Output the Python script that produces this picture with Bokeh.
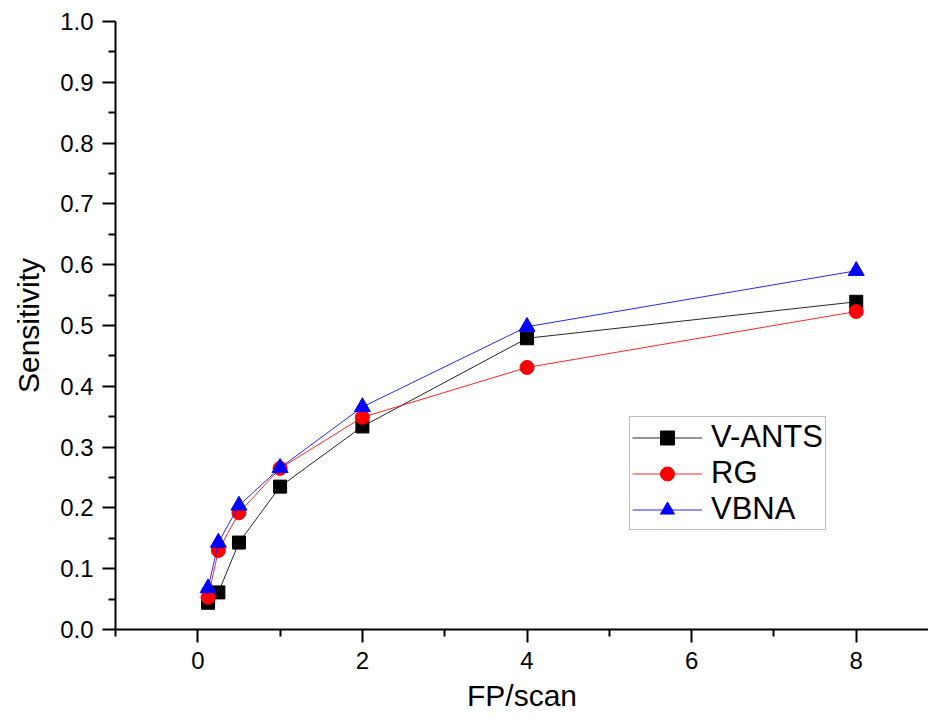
from bokeh.plotting import figure
from bokeh.models import FixedTicker, NumeralTickFormatter, Range1d, Legend, LegendItem
from bokeh.embed import file_html
from bokeh.resources import INLINE

fp_scan = [0.125, 0.25, 0.5, 1, 2, 4, 8]
v_ants = [0.044, 0.061, 0.143, 0.235, 0.334, 0.479, 0.539]
rg = [0.053, 0.130, 0.192, 0.265, 0.349, 0.431, 0.523]
vbna = [0.068, 0.143, 0.204, 0.266, 0.366, 0.498, 0.590]

x_ticks = [0, 2, 4, 6, 8]
x_minor = [-1, 1, 3, 5, 7]
y_ticks = [round(i * 0.1, 1) for i in range(11)]
y_minor = [round(0.05 + i * 0.1, 2) for i in range(10)]

FONT = "Liberation Sans"

p = figure(width=928, height=722, output_backend="svg", toolbar_location=None,
           x_range=Range1d(-1, 8.878), y_range=Range1d(0, 1.0),
           frame_width=813, frame_height=608,
           min_border_left=115, min_border_top=21, min_border_right=0, min_border_bottom=93)
p.outline_line_color = None
p.xgrid.visible = False
p.ygrid.visible = False
p.background_fill_color = "white"

r1l = p.line(fp_scan, v_ants, line_color="black", line_width=1, line_alpha=0.85)
r1s = p.scatter(fp_scan, v_ants, marker="square", size=13, fill_color="black", line_color="black")
r2l = p.line(fp_scan, rg, line_color="red", line_width=1, line_alpha=0.85)
r2s = p.scatter(fp_scan, rg, marker="circle", size=14, fill_color="red", line_color="red")
r3l = p.line(fp_scan, vbna, line_color="blue", line_width=1, line_alpha=0.85)
r3s = p.scatter(fp_scan, vbna, marker="triangle", size=16, fill_color="blue", line_color="blue")

legend = Legend(items=[
    LegendItem(label="V-ANTS", renderers=[r1l, r1s]),
    LegendItem(label="RG", renderers=[r2l, r2s]),
    LegendItem(label="VBNA", renderers=[r3l, r3s]),
], location=(514, 99))
legend.label_text_font = FONT
legend.label_text_font_size = "31px"
legend.label_text_color = "black"
legend.glyph_width = 70
legend.glyph_height = 35
legend.label_height = 35
legend.spacing = 0
legend.padding = 2
legend.margin = 0
legend.label_standoff = 9
legend.border_line_color = "#808080"
legend.border_line_width = 1.5
legend.background_fill_alpha = 1.0
p.add_layout(legend)

for ax in (p.xaxis[0], p.yaxis[0]):
    ax.axis_line_width = 2
    ax.axis_line_color = "black"
    ax.major_tick_line_width = 2
    ax.minor_tick_line_width = 2
    ax.major_tick_line_color = "black"
    ax.minor_tick_line_color = "black"
    ax.major_tick_in = 0
    ax.minor_tick_in = 0
    ax.major_tick_out = 13
    ax.minor_tick_out = 7
    ax.major_label_text_font = FONT
    ax.major_label_text_font_size = "24px"
    ax.major_label_text_color = "black"
    ax.axis_label_text_font = FONT
    ax.axis_label_text_font_size = "30px"
    ax.axis_label_text_font_style = "normal"
    ax.axis_label_text_color = "black"
    ax.major_label_standoff = 9

p.xaxis[0].ticker = FixedTicker(ticks=x_ticks, minor_ticks=x_minor)
p.yaxis[0].ticker = FixedTicker(ticks=y_ticks, minor_ticks=y_minor)
p.yaxis[0].formatter = NumeralTickFormatter(format="0.0")
p.xaxis[0].axis_label = "FP/scan"
p.yaxis[0].axis_label = "Sensitivity"
p.xaxis[0].axis_label_standoff = 7
p.yaxis[0].axis_label_standoff = 12

open("out.html", "w").write(file_html(p, INLINE))
